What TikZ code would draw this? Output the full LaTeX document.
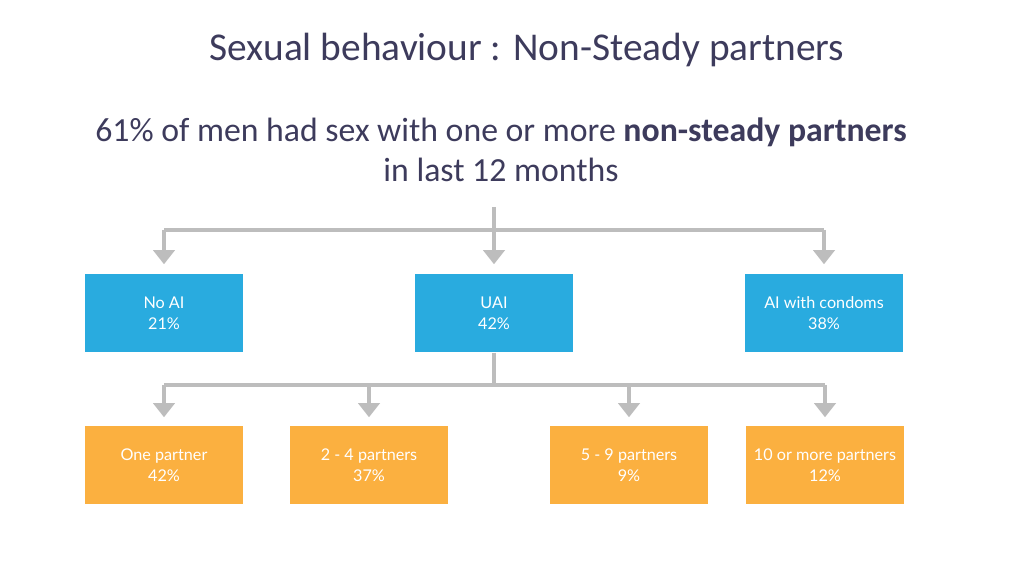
\documentclass[tikz,border=0pt]{standalone}
\usepackage{fontspec}
\setmainfont{Carlito}
\newfontfamily\boxfont{Lato}
\usetikzlibrary{arrows.meta,positioning}
\definecolor{titlecol}{HTML}{3D3B5C}
\definecolor{boxblue}{HTML}{29ABDF}
\definecolor{boxorange}{HTML}{FBB040}
\definecolor{linegray}{HTML}{BDBDBD}

\begin{document}
\begin{tikzpicture}[
        x=0.01cm, y=-0.01cm,
        box/.style={rectangle, minimum width=1.58cm, minimum height=0.78cm, text=white, align=center, font=\boxfont\fontsize{4.6}{6}\selectfont, inner sep=0pt},
        bluebox/.style={box, fill=boxblue},
        orangebox/.style={box, fill=boxorange},
        link/.style={draw=linegray, line width=1.1pt},
        arrow/.style={link, -{Triangle[length=4pt,width=6pt]}}
    ]
        \useasboundingbox (0,0) rectangle (1024,576);
        % Titles
        \node[text=titlecol, font=\fontsize{11.2}{13}\selectfont] (title) at (527,50) {Sexual behaviour : Non-Steady partners};
        \node[text=titlecol, align=center, font=\fontsize{9.6}{11.4}\selectfont] (sub) at (501,150) {61\% of men had sex with one or more \textbf{non-steady partners}\\in last 12 months};

        % Nodes
        \node[bluebox] (noai) at (164,313) {No AI\\21\%};
        \node[bluebox] (uai) at (494,313) {UAI\\42\%};
        \node[bluebox] (aicond) at (824,313) {AI with condoms\\38\%};
        \node[orangebox] (one) at (164,465) {One partner\\42\%};
        \node[orangebox] (two) at (369,465) {2 - 4 partners\\37\%};
        \node[orangebox] (five) at (629,465) {5 - 9 partners\\9\%};
        \node[orangebox] (ten) at (825,465) {10 or more partners\\12\%};

        % Arrows
        \coordinate (top) at (494,207);
        \coordinate (hubA) at (494,230);
        \coordinate (hubB) at (494,385);
        \draw[link] (top) -- (hubA);
        \draw[link] (uai.south) -- (hubB);
        \draw[link] (noai |- hubA) -- (aicond |- hubA);
        \draw[link] (one |- hubB) -- (ten |- hubB);
        \foreach \n in {noai,uai,aicond}
            \draw[arrow] (\n |- hubA) -- ([yshift=0.09cm]\n.north);
        \foreach \n in {one,two,five,ten}
            \draw[arrow] (\n |- hubB) -- ([yshift=0.08cm]\n.north);

    \end{tikzpicture}
\end{document}
